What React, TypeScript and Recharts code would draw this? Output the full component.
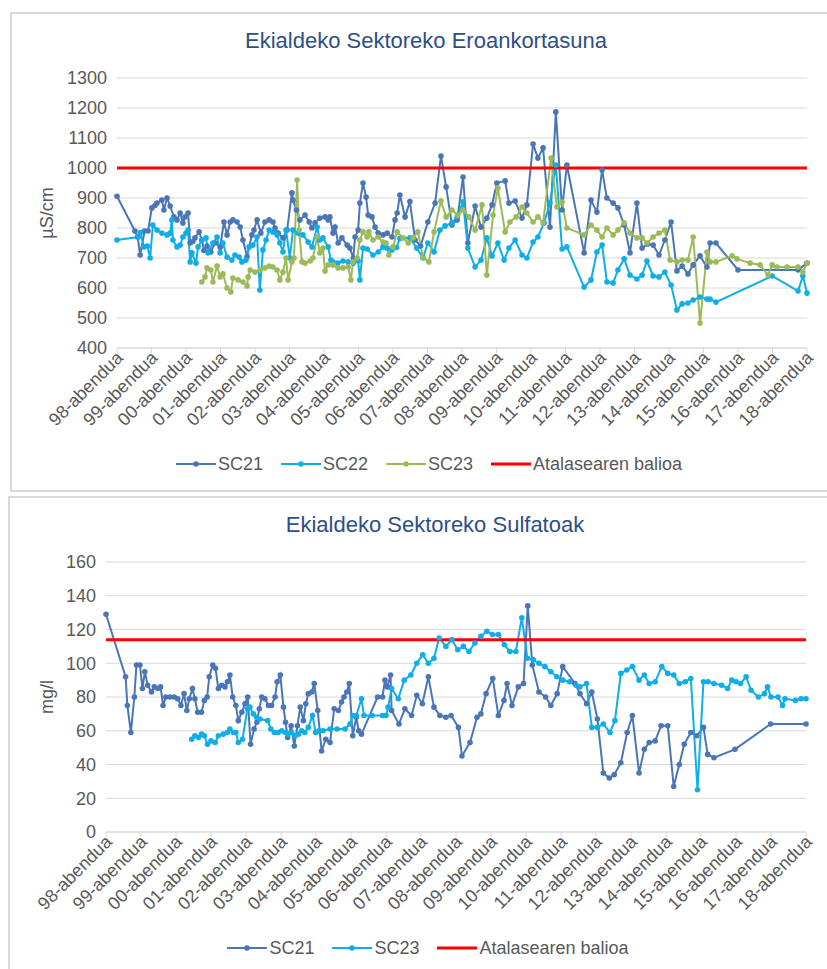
import React from "react";
import { LineChart, Line, XAxis, YAxis, CartesianGrid, ReferenceLine } from "recharts";

const FONT = "'Liberation Sans', Arial, sans-serif";
const NARROW = "'Liberation Sans Narrow', 'Liberation Sans', Arial, sans-serif";

// x = years since Dec 1998 (0 = 98-abendua)
const tickLabels = [
  "98-abendua", "99-abendua", "00-abendua", "01-abendua", "02-abendua", "03-abendua",
  "04-abendua", "05-abendua", "06-abendua", "07-abendua", "08-abendua", "09-abendua",
  "10-abendua", "11-abendua", "12-abendua", "13-abendua", "14-abendua", "15-abendua",
  "16-abendua", "17-abendua", "18-abendua",
];
const xTicks = tickLabels.map((_, i) => i);

const condTicks = [400, 500, 600, 700, 800, 900, 1000, 1100, 1200, 1300];
const sulfTicks = [0, 20, 40, 60, 80, 100, 120, 140, 160];
const condThreshold = 1000;
const sulfThreshold = 114;

type Pt = [number, number];

const sc21Cond: Pt[] = [
  [0, 906], [0.52, 790], [0.6, 770], [0.67, 710], [0.8, 790], [0.9, 790], [1.01, 867], [1.1, 875],
  [1.16, 883], [1.3, 893], [1.36, 860], [1.45, 900], [1.54, 873], [1.65, 837], [1.74, 827], [1.83, 850],
  [1.91, 817], [1.97, 837], [2.06, 850], [2.12, 750], [2.2, 755], [2.26, 767], [2.38, 787], [2.46, 760],
  [2.52, 725], [2.61, 740], [2.72, 720], [2.84, 750], [2.99, 737], [3.1, 820], [3.19, 777], [3.28, 820],
  [3.36, 827], [3.48, 820], [3.57, 803], [3.65, 760], [3.77, 705], [3.91, 777], [3.97, 793], [4.06, 827],
  [4.17, 783], [4.29, 820], [4.41, 827], [4.52, 820], [4.58, 800], [4.67, 783], [4.81, 767], [4.93, 793],
  [5.07, 917], [5.1, 893], [5.2, 860], [5.3, 827], [5.45, 843], [5.57, 820], [5.65, 800], [5.74, 817],
  [5.88, 833], [6.03, 837], [6.12, 827], [6.17, 837], [6.26, 783], [6.32, 803], [6.41, 750], [6.52, 767],
  [6.67, 743], [6.75, 733], [6.85, 700], [6.9, 770], [6.99, 793], [7.04, 883], [7.13, 950], [7.22, 903],
  [7.28, 843], [7.39, 837], [7.48, 803], [7.57, 783], [7.71, 777], [7.83, 783], [7.97, 770], [8.06, 827],
  [8.12, 850], [8.2, 910], [8.35, 837], [8.49, 888], [8.64, 760], [8.8, 740], [9.01, 820], [9.22, 883],
  [9.39, 1040], [9.54, 937], [9.71, 810], [9.86, 827], [10.03, 970], [10.17, 750], [10.38, 873], [10.55, 803],
  [10.72, 833], [10.87, 877], [11.01, 950], [11.25, 957], [11.36, 883], [11.54, 890], [11.74, 833], [11.88, 877],
  [12.06, 1080], [12.2, 1033], [12.35, 1067], [12.55, 803], [12.72, 1187], [12.9, 860], [13.04, 1010], [13.54, 717],
  [13.74, 893], [13.91, 853], [14.06, 993], [14.2, 900], [14.38, 883], [14.52, 867], [14.7, 810], [14.87, 717],
  [15.07, 883], [15.22, 733], [15.38, 747], [15.54, 743], [15.71, 710], [15.88, 760], [16.06, 820], [16.23, 657],
  [16.38, 673], [16.55, 647], [16.7, 677], [16.9, 707], [17.1, 670], [17.19, 750], [17.36, 750], [18.0, 660],
  [19.74, 660], [20.0, 683],
];

const sc22Cond: Pt[] = [
  [0, 760], [0.61, 770], [0.68, 785], [0.78, 737], [0.88, 740], [0.96, 700], [1.04, 810], [1.16, 793],
  [1.3, 783], [1.45, 777], [1.54, 783], [1.59, 827], [1.62, 760], [1.74, 737], [1.83, 743], [1.91, 770],
  [2.0, 783], [2.06, 793], [2.12, 687], [2.17, 717], [2.29, 683], [2.35, 737], [2.46, 760], [2.58, 767],
  [2.64, 717], [2.78, 750], [2.9, 770], [2.99, 717], [3.07, 750], [3.19, 703], [3.33, 693], [3.42, 710],
  [3.54, 703], [3.62, 687], [3.74, 693], [3.83, 737], [3.94, 743], [4.06, 770], [4.14, 593], [4.23, 727],
  [4.32, 760], [4.41, 793], [4.52, 787], [4.64, 777], [4.72, 750], [4.81, 720], [4.9, 793], [5.01, 700],
  [5.1, 793], [5.25, 783], [5.39, 777], [5.54, 753], [5.65, 737], [5.8, 803], [5.88, 760], [5.97, 767],
  [6.12, 737], [6.2, 693], [6.26, 687], [6.4, 683], [6.55, 690], [6.7, 687], [6.85, 683], [6.99, 690],
  [7.04, 627], [7.13, 733], [7.25, 730], [7.42, 710], [7.57, 720], [7.71, 737], [7.83, 733], [7.97, 727],
  [8.1, 735], [8.2, 765], [8.49, 767], [8.69, 733], [8.87, 700], [9.01, 750], [9.19, 720], [9.36, 793],
  [9.51, 807], [9.71, 817], [9.86, 837], [10.03, 887], [10.17, 733], [10.38, 670], [10.55, 693], [10.72, 767],
  [10.87, 707], [11.04, 750], [11.22, 693], [11.36, 733], [11.54, 760], [11.74, 710], [11.88, 700], [12.06, 753],
  [12.2, 770], [12.38, 817], [12.55, 883], [12.72, 1010], [12.9, 730], [13.04, 737], [13.54, 603], [13.74, 627],
  [13.91, 720], [14.06, 743], [14.2, 620], [14.38, 617], [14.52, 660], [14.7, 697], [14.87, 643], [15.07, 630],
  [15.22, 643], [15.36, 690], [15.54, 640], [15.71, 637], [15.88, 653], [16.06, 610], [16.23, 527], [16.38, 547],
  [16.55, 550], [16.7, 560], [16.9, 570], [17.1, 563], [17.19, 563], [17.36, 553], [18.99, 640], [19.74, 590],
  [19.88, 640], [20.0, 583],
];

const sc23Cond: Pt[] = [
  [2.46, 620], [2.55, 637], [2.61, 667], [2.72, 660], [2.78, 620], [2.9, 673], [2.99, 637], [3.07, 647],
  [3.19, 600], [3.3, 587], [3.36, 633], [3.51, 627], [3.65, 620], [3.77, 607], [3.8, 637], [3.86, 660],
  [4.0, 653], [4.15, 660], [4.29, 667], [4.41, 673], [4.52, 670], [4.64, 660], [4.72, 627], [4.81, 653],
  [4.9, 700], [4.96, 627], [5.07, 687], [5.13, 700], [5.22, 960], [5.28, 793], [5.36, 687], [5.45, 683],
  [5.6, 690], [5.68, 700], [5.8, 770], [5.88, 717], [5.97, 733], [6.03, 657], [6.12, 677], [6.26, 677],
  [6.41, 667], [6.55, 667], [6.7, 670], [6.78, 627], [6.84, 687], [6.96, 700], [7.04, 760], [7.13, 787],
  [7.25, 770], [7.3, 787], [7.42, 760], [7.57, 770], [7.71, 753], [7.8, 750], [7.88, 710], [8.0, 737],
  [8.12, 787], [8.29, 767], [8.44, 750], [8.58, 767], [8.72, 787], [8.87, 703], [9.04, 687], [9.19, 787],
  [9.39, 890], [9.54, 837], [9.71, 860], [9.88, 843], [10.03, 860], [10.2, 837], [10.38, 793], [10.58, 877],
  [10.72, 643], [10.9, 843], [11.04, 933], [11.25, 787], [11.39, 820], [11.57, 837], [11.74, 870], [11.88, 850],
  [12.06, 820], [12.2, 837], [12.35, 817], [12.58, 1033], [12.75, 870], [12.9, 887], [13.04, 800], [13.54, 777],
  [13.74, 810], [13.91, 793], [14.06, 770], [14.2, 800], [14.38, 777], [14.52, 793], [14.7, 817], [14.87, 783],
  [15.07, 767], [15.22, 767], [15.36, 750], [15.54, 770], [15.71, 783], [15.88, 793], [16.03, 693], [16.23, 687],
  [16.38, 693], [16.55, 693], [16.7, 770], [16.9, 483], [17.1, 720], [17.19, 687], [17.36, 687], [17.83, 707],
  [17.97, 697], [18.35, 683], [18.64, 677], [18.87, 643], [18.99, 677], [19.13, 670], [19.42, 670], [19.74, 670],
  [19.88, 653], [20.0, 683],
];

const sc21Sulf: Pt[] = [
  [0, 129], [0.56, 92], [0.61, 75], [0.71, 59], [0.81, 80], [0.87, 99], [0.97, 99], [1.04, 85],
  [1.11, 95], [1.19, 87], [1.3, 83], [1.38, 86], [1.48, 85], [1.56, 86], [1.63, 75], [1.71, 80],
  [1.83, 80], [1.95, 80], [2.05, 79], [2.14, 75], [2.23, 82], [2.31, 72], [2.38, 79], [2.47, 85],
  [2.54, 79], [2.62, 71], [2.73, 71], [2.81, 78], [2.89, 80], [2.95, 92], [3.05, 99], [3.13, 97],
  [3.21, 85], [3.31, 87], [3.4, 86], [3.47, 89], [3.54, 93], [3.62, 80], [3.71, 75], [3.78, 66],
  [3.88, 71], [3.97, 76], [4.05, 80], [4.13, 52], [4.23, 61], [4.31, 65], [4.38, 73], [4.45, 80],
  [4.54, 79], [4.64, 75], [4.73, 75], [4.83, 80], [4.89, 89], [4.98, 93], [5.07, 74], [5.13, 65],
  [5.19, 56], [5.29, 63], [5.38, 51], [5.47, 63], [5.55, 74], [5.64, 66], [5.71, 76], [5.78, 82],
  [5.88, 83], [5.95, 88], [6.05, 72], [6.16, 48], [6.28, 55], [6.4, 53], [6.52, 73], [6.64, 72],
  [6.73, 77], [6.8, 80], [6.88, 83], [6.95, 88], [7.05, 57], [7.15, 68], [7.22, 60], [7.3, 58],
  [7.76, 80], [7.9, 80], [7.97, 90], [8.04, 86], [8.13, 93], [8.16, 72], [8.37, 64], [8.54, 73],
  [8.73, 69], [8.88, 81], [9.04, 76], [9.21, 92], [9.37, 74], [9.54, 69], [9.71, 68], [9.86, 69],
  [10.07, 62], [10.17, 45], [10.4, 53], [10.6, 68], [10.71, 70], [10.86, 82], [11.05, 91], [11.21, 69],
  [11.37, 78], [11.46, 88], [11.6, 75], [11.78, 86], [11.93, 88], [12.05, 134], [12.18, 99], [12.37, 83],
  [12.56, 80], [12.71, 75], [12.89, 82], [13.05, 98], [13.4, 88], [13.54, 82], [13.73, 76], [13.88, 83],
  [14.04, 67], [14.21, 35], [14.38, 32], [14.52, 34], [14.71, 41], [14.89, 59], [15.04, 69], [15.23, 35],
  [15.38, 49], [15.52, 53], [15.69, 54], [15.86, 63], [16.05, 63], [16.22, 27], [16.38, 40], [16.52, 52],
  [16.71, 59], [16.88, 57], [17.07, 62], [17.19, 46], [17.37, 44], [17.97, 49], [18.99, 64], [20.0, 64],
];

const sc23Sulf: Pt[] = [
  [2.45, 55], [2.54, 57], [2.64, 56], [2.73, 58], [2.81, 57], [2.9, 52], [3.0, 54], [3.12, 53],
  [3.21, 57], [3.35, 58], [3.47, 59], [3.54, 61], [3.64, 59], [3.71, 59], [3.78, 53], [3.9, 55],
  [4.04, 73], [4.11, 74], [4.21, 70], [4.3, 68], [4.4, 67], [4.62, 66], [4.71, 61], [4.81, 59],
  [4.92, 59], [5.02, 60], [5.12, 59], [5.2, 58], [5.3, 59], [5.4, 57], [5.5, 58], [5.59, 60],
  [5.68, 59], [5.78, 62], [5.9, 69], [5.99, 59], [6.09, 60], [6.2, 60], [6.4, 61], [6.6, 61],
  [6.83, 61], [6.97, 64], [7.05, 69], [7.15, 69], [7.3, 79], [7.37, 69], [7.6, 69], [7.9, 69],
  [8.0, 69], [8.06, 74], [8.16, 85], [8.35, 79], [8.52, 90], [8.71, 93], [8.88, 100], [9.05, 105],
  [9.21, 100], [9.37, 103], [9.52, 115], [9.71, 110], [9.88, 114], [10.05, 108], [10.21, 110], [10.37, 107],
  [10.54, 112], [10.71, 116], [10.88, 119], [11.04, 117], [11.21, 117], [11.38, 111], [11.54, 107], [11.71, 107],
  [11.88, 127], [12.04, 103], [12.21, 102], [12.37, 100], [12.54, 98], [12.71, 95], [12.88, 92], [13.05, 90],
  [13.24, 89], [13.43, 87], [13.54, 86], [13.73, 88], [13.88, 62], [14.04, 62], [14.21, 64], [14.4, 59],
  [14.54, 66], [14.71, 94], [14.88, 96], [15.04, 98], [15.23, 90], [15.38, 93], [15.52, 88], [15.69, 89],
  [15.88, 98], [16.05, 94], [16.22, 93], [16.38, 88], [16.55, 89], [16.71, 91], [16.9, 25], [17.07, 89],
  [17.2, 89], [17.37, 88], [17.59, 87], [17.76, 85], [17.88, 90], [18.0, 89], [18.13, 88], [18.29, 92],
  [18.43, 84], [18.64, 80], [18.81, 82], [18.9, 86], [19.0, 80], [19.2, 80], [19.33, 75], [19.4, 79],
  [19.7, 78], [19.86, 79], [20.0, 79],
];

const DARK = "#4A76B8";
const LIGHT = "#0FAEE9";
const GREEN = "#9BBB59";
const RED = "#FF0000";
const GRID = "#D9D9D9";
const TEXT = "#595959";

const toRows = (pts: Pt[]) => pts.map(([t, v]) => ({ t, v }));

const XTick = (props: any) => {
  const { x, y, payload } = props;
  return (
    <g transform={`translate(${x + 7},${y + 4})`}>
      <text textAnchor="end" transform="rotate(-45)" fill={TEXT} fontSize={18} fontFamily={NARROW}>
        {tickLabels[payload.value]}
      </text>
    </g>
  );
};

type Series = { name: string; color: string; points: Pt[] };

const LegendRow = ({ items, top, center }: { items: Series[]; top: number; center: number }) => (
  <div
    style={{
      position: "absolute", top, left: 0, width: center * 2, height: 22,
      display: "flex", justifyContent: "center", alignItems: "center", gap: 18,
      fontFamily: NARROW, fontSize: 18, color: TEXT,
    }}
  >
    {items.map((s) => (
      <div key={s.name} style={{ display: "flex", alignItems: "center", gap: 2 }}>
        <svg width={40} height={10}>
          <line x1={0} y1={5} x2={40} y2={5} stroke={s.color} strokeWidth={s.color === RED ? 3 : 2} />
          {s.color !== RED && <circle cx={20} cy={5} r={2.8} fill={s.color} />}
        </svg>
        <span>{s.name}</span>
      </div>
    ))}
  </div>
);

const seriesLines = (list: Series[]) =>
  list.map((s) => (
    <Line
      key={s.name}
      data={toRows(s.points)}
      dataKey="v"
      name={s.name}
      type="linear"
      stroke={s.color}
      strokeWidth={2}
      dot={{ r: 2.8, fill: s.color, stroke: s.color, strokeWidth: 0 }}
      activeDot={false}
      isAnimationActive={false}
    />
  ));

const condSeries: Series[] = [
  { name: "SC21", color: DARK, points: sc21Cond },
  { name: "SC22", color: LIGHT, points: sc22Cond },
  { name: "SC23", color: GREEN, points: sc23Cond },
];
const sulfSeries: Series[] = [
  { name: "SC21", color: DARK, points: sc21Sulf },
  { name: "SC23", color: LIGHT, points: sc23Sulf },
];
const thresholdItem: Series = { name: "Atalasearen balioa", color: RED, points: [] };

export default function App() {
  const axisProps = {
    dataKey: "t",
    type: "number" as const,
    domain: [0, 20],
    ticks: xTicks,
    interval: 0 as const,
    tick: <XTick />,
    tickSize: 5,
    axisLine: { stroke: GRID },
    tickLine: { stroke: GRID },
    height: 90,
    allowDuplicatedCategory: false,
  };
  const yTickStyle = { fill: TEXT, fontSize: 18, fontFamily: NARROW };

  return (
    <div style={{ position: "absolute", left: 0, top: 0, width: 827, height: 969, background: "#fff", overflow: "hidden" }}>
      {/* frames */}
      <div style={{ position: "absolute", left: 10, top: 12, width: 840, height: 480, border: `2px solid ${GRID}`, boxSizing: "border-box" }} />
      <div style={{ position: "absolute", left: 8, top: 496, width: 840, height: 490, border: `2px solid ${GRID}`, boxSizing: "border-box" }} />

      {/* titles */}
      <div style={{ position: "absolute", left: 0, top: 28, width: 852, textAlign: "center", fontFamily: FONT, fontSize: 22, lineHeight: "26px", color: "#2E4F84" }}>
        Ekialdeko Sektoreko Eroankortasuna
      </div>
      <div style={{ position: "absolute", left: 0, top: 512, width: 870, textAlign: "center", fontFamily: FONT, fontSize: 22, lineHeight: "26px", color: "#2E4F84" }}>
        Ekialdeko Sektoreko Sulfatoak
      </div>

      {/* conductivity */}
      <div style={{ position: "absolute", left: 10, top: 12 }}>
        <LineChart width={817} height={480} margin={{ top: 66, right: 20, bottom: 54, left: 0 }}>
          <CartesianGrid vertical={false} stroke={GRID} />
          <XAxis {...axisProps} />
          <YAxis
            type="number"
            domain={[400, 1300]}
            ticks={condTicks}
            interval={0}
            width={107}
            axisLine={false}
            tickLine={false}
            tick={yTickStyle}
            tickMargin={4}
            label={{ value: "µS/cm", angle: -90, position: "insideLeft", offset: 37, style: { textAnchor: "middle", fill: TEXT, fontSize: 18, fontFamily: NARROW } }}
          />
          {seriesLines(condSeries)}
          <ReferenceLine y={condThreshold} stroke={RED} strokeWidth={3} />
        </LineChart>
      </div>
      <LegendRow items={[...condSeries, thresholdItem]} top={453} center={429} />

      {/* sulphates */}
      <div style={{ position: "absolute", left: 8, top: 496 }}>
        <LineChart width={819} height={473} margin={{ top: 66, right: 21, bottom: 47, left: 0 }}>
          <CartesianGrid vertical={false} stroke={GRID} />
          <XAxis {...axisProps} />
          <YAxis
            type="number"
            domain={[0, 160]}
            ticks={sulfTicks}
            interval={0}
            width={98}
            axisLine={false}
            tickLine={false}
            tick={yTickStyle}
            tickMargin={4}
            label={{ value: "mg/l", angle: -90, position: "insideLeft", offset: 39, style: { textAnchor: "middle", fill: TEXT, fontSize: 18, fontFamily: NARROW } }}
          />
          {seriesLines(sulfSeries)}
          <ReferenceLine y={sulfThreshold} stroke={RED} strokeWidth={3} />
        </LineChart>
      </div>
      <LegendRow items={[...sulfSeries, thresholdItem]} top={937} center={428} />
    </div>
  );
}
